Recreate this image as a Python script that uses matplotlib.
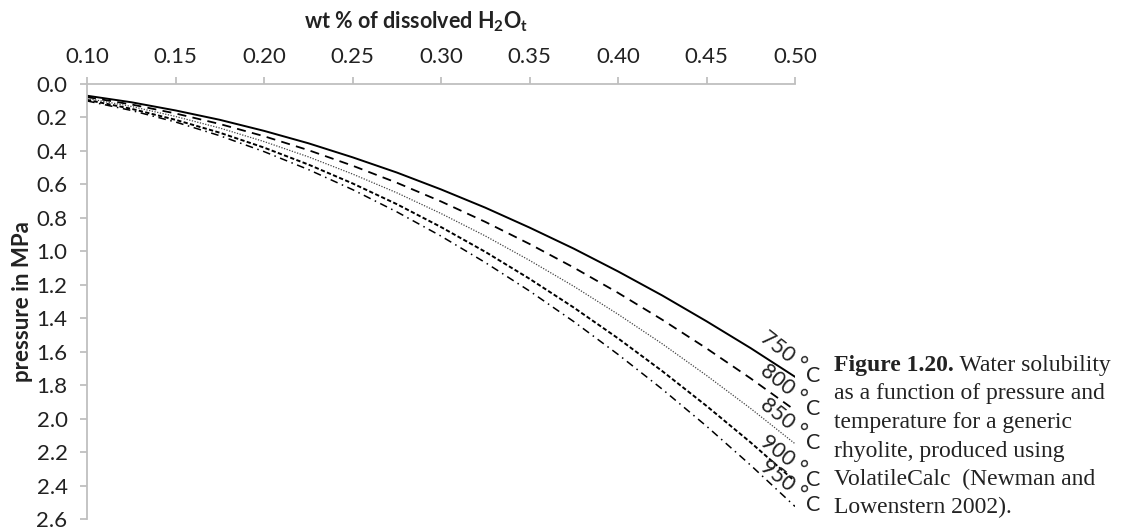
import matplotlib
matplotlib.use('Agg')
import matplotlib.pyplot as plt

plt.rcParams['font.family'] = ['Lato', 'DejaVu Sans']
plt.rcParams['mathtext.fontset'] = 'custom'
plt.rcParams['mathtext.rm'] = 'Lato:bold'
plt.rcParams['mathtext.default'] = 'rm'

# wt % dissolved H2O (x) and pressure in MPa (y)
wt = [0.100, 0.125, 0.150, 0.175, 0.200, 0.225, 0.250, 0.275, 0.300,
      0.325, 0.350, 0.375, 0.400, 0.425, 0.450, 0.475, 0.500]
p750 = [0.070, 0.109, 0.158, 0.214, 0.280, 0.354, 0.438, 0.529, 0.630,
        0.739, 0.858, 0.984, 1.120, 1.264, 1.418, 1.579, 1.750]
p800 = [0.078, 0.122, 0.176, 0.239, 0.312, 0.395, 0.488, 0.590, 0.702,
        0.824, 0.956, 1.097, 1.248, 1.409, 1.580, 1.760, 1.950]
p850 = [0.086, 0.134, 0.194, 0.263, 0.344, 0.435, 0.538, 0.650, 0.774,
        0.908, 1.054, 1.209, 1.376, 1.553, 1.742, 1.940, 2.150]
p900 = [0.095, 0.148, 0.214, 0.291, 0.380, 0.481, 0.594, 0.718, 0.855,
        1.003, 1.164, 1.336, 1.520, 1.716, 1.924, 2.143, 2.375]
p950 = [0.101, 0.158, 0.227, 0.309, 0.404, 0.511, 0.631, 0.764, 0.909,
        1.067, 1.237, 1.420, 1.616, 1.824, 2.045, 2.279, 2.525]

labels = ['750', '800', '850', '900', '950']
series = [p750, p800, p850, p900, p950]
styles = [dict(ls='-', lw=1.4),
          dict(ls=(0, (5, 3.5)), lw=1.3),
          dict(ls=(0, (1, 1.2)), lw=0.9, color='#444444'),
          dict(ls=(0, (2.2, 1.2)), lw=1.4),
          dict(ls=(0, (5, 3, 1, 3)), lw=1.1)]

xticks = [0.10, 0.15, 0.20, 0.25, 0.30, 0.35, 0.40, 0.45, 0.50]
yticks = [0.0, 0.2, 0.4, 0.6, 0.8, 1.0, 1.2, 1.4, 1.6, 1.8, 2.0, 2.2, 2.4, 2.6]

caption = ['as a function of pressure and',
           'temperature for a generic',
           'rhyolite, produced using',
           'VolatileCalc  (Newman and',
           'Lowenstern 2002).']

fig = plt.figure(figsize=(11.21, 5.31), dpi=100)
ax = fig.add_axes([87/1121, 1 - 519/531, 708/1121, 435/531])

for lab, p, st in zip(labels, series, styles):
    kw = dict(color='black')
    kw.update(st)
    ax.plot(wt, p, **kw)
    ax.annotate(lab + ' \u00b0', xy=(wt[-1], p[-1]), xytext=(-12, 26),
                textcoords='offset pixels', ha='center', va='center',
                rotation=-38, fontsize=15.5, color='#222222',
                annotation_clip=False)
    ax.annotate('C', xy=(wt[-1], p[-1]), xytext=(18, 1),
                textcoords='offset pixels', ha='center', va='center',
                fontsize=15.5, color='#222222', annotation_clip=False)

ax.set_xlim(0.10, 0.50)
ax.set_ylim(2.6, 0.0)
ax.set_xticks(xticks)
ax.set_xticklabels(['%.2f' % v for v in xticks])
ax.set_yticks(yticks)
ax.set_yticklabels(['%.1f' % v for v in yticks])
ax.xaxis.tick_top()
ax.xaxis.set_label_position('top')

for s in ['right', 'bottom']:
    ax.spines[s].set_visible(False)
for s in ['left', 'top']:
    ax.spines[s].set_color('#bfbfbf')
    ax.spines[s].set_linewidth(1.3)
ax.tick_params(axis='both', colors='#bfbfbf', labelcolor='#222222',
               labelsize=16, length=5, width=1.3)
ax.tick_params(axis='x', pad=7)
ax.tick_params(axis='y', pad=9)

ax.set_xlabel('wt % of dissolved H$_2$O$_t$', fontsize=15.5, fontweight='bold',
              color='#222222', va='center')
ax.xaxis.set_label_coords((416 - 87)/708, 1 + 62/435)
ax.set_ylabel('pressure in MPa', fontsize=16, fontweight='bold',
              color='#222222', va='center')
ax.yaxis.set_label_coords(-64/708, 0.5)

# caption to the right
serif = ['Liberation Serif', 'DejaVu Serif']
x0 = 834/1121
t1 = fig.text(x0, 1 - 371/531, 'Figure 1.20.', family=serif, fontsize=17,
              fontweight='bold', color='#222222', va='baseline')
ax.annotate(' Water solubility', xy=(1, 0), xycoords=t1, family=serif,
            fontsize=17, color='#222222', va='bottom', ha='left',
            annotation_clip=False)
for i, line in enumerate(caption):
    fig.text(x0, 1 - (399.5 + 28.5 * i)/531, line, family=serif,
             fontsize=17, color='#222222', va='baseline')

fig.savefig('out.png', dpi=100)
